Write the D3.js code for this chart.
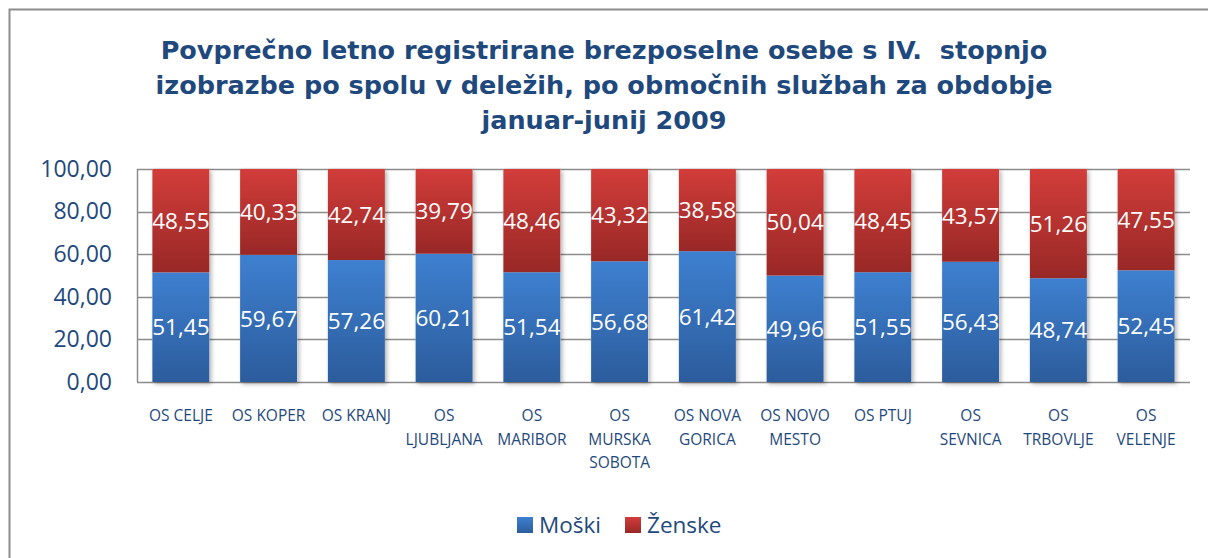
<!DOCTYPE html>
<html>
<head>
<meta charset="utf-8">
<script src="https://cdn.jsdelivr.net/npm/d3@7.9.0/dist/d3.min.js"></script>
<style>
  body { margin: 0; background: #fff; }
  svg { display: block; }
</style>
</head>
<body>
<svg id="chart" width="1208" height="558"></svg>
<script>
// data
const offices = ['OS CELJE', 'OS KOPER', 'OS KRANJ', 'OS LJUBLJANA', 'OS MARIBOR', 'OS MURSKA SOBOTA',
  'OS NOVA GORICA', 'OS NOVO MESTO', 'OS PTUJ', 'OS SEVNICA', 'OS TRBOVLJE', 'OS VELENJE'];
// how the category labels wrap
const officeLines = [['OS CELJE'], ['OS KOPER'], ['OS KRANJ'], ['OS', 'LJUBLJANA'], ['OS', 'MARIBOR'],
  ['OS', 'MURSKA', 'SOBOTA'], ['OS NOVA', 'GORICA'], ['OS NOVO', 'MESTO'], ['OS PTUJ'],
  ['OS', 'SEVNICA'], ['OS', 'TRBOVLJE'], ['OS', 'VELENJE']];
const moski = [51.45, 59.67, 57.26, 60.21, 51.54, 56.68, 61.42, 49.96, 51.55, 56.43, 48.74, 52.45];
const zenske = [48.55, 40.33, 42.74, 39.79, 48.46, 43.32, 38.58, 50.04, 48.45, 43.57, 51.26, 47.55];
const seriesNames = ['Moški', 'Ženske'];
const yTicks = [0, 20, 40, 60, 80, 100];
const titleLines = ['Povprečno letno registrirane brezposelne osebe s IV.  stopnjo',
  'izobrazbe po spolu v deležih, po območnih službah za obdobje',
  'januar-junij 2009'];

const textColor = '#1f497d';
const svg = d3.select('#chart');

// gradients for bar segments
const defs = svg.append('defs');
const grads = [
  { id: 'gBlue', top: '#3e80d0', bottom: '#2c5c9c' },
  { id: 'gRed', top: '#d23d3a', bottom: '#982826' }
];
grads.forEach(g => {
  const lg = defs.append('linearGradient').attr('id', g.id)
    .attr('x1', 0).attr('y1', 0).attr('x2', 0).attr('y2', 1);
  lg.append('stop').attr('offset', '0%').attr('stop-color', g.top);
  lg.append('stop').attr('offset', '100%').attr('stop-color', g.bottom);
});
const shadow = defs.append('filter').attr('id', 'shadow')
  .attr('x', '-20%').attr('y', '-5%').attr('width', '150%').attr('height', '115%');
shadow.append('feDropShadow').attr('dx', 2).attr('dy', 2).attr('stdDeviation', 2)
  .attr('flood-color', '#000').attr('flood-opacity', 0.3);

// outer frame
svg.append('path')
  .attr('d', 'M9.5,570 V9.5 H1220')
  .attr('fill', 'none').attr('stroke', '#8c8c8c').attr('stroke-width', 2);

// title
svg.append('text')
  .attr('x', 604).attr('y', 59)
  .attr('text-anchor', 'middle')
  .attr('font-family', 'DejaVu Sans, Verdana, sans-serif')
  .attr('font-weight', 'bold')
  .attr('font-size', 25.5)
  .attr('fill', textColor)
  .style('white-space', 'pre')
  .selectAll('tspan').data(titleLines).join('tspan')
  .attr('x', 604).attr('dy', (d, i) => i === 0 ? 0 : 35)
  .text(d => d);

const margin = { left: 137, right: 1190, top: 169, bottom: 382 };

const x = d3.scaleBand().domain(offices).range([margin.left, margin.right]).paddingInner(0.35).paddingOuter(0.175);
const y = d3.scaleLinear().domain([0, 100]).range([margin.bottom, margin.top]);

// gridlines
svg.append('g')
  .selectAll('line').data(yTicks).join('line')
  .attr('x1', margin.left).attr('x2', margin.right)
  .attr('y1', d => Math.round(y(d)) + 0.5).attr('y2', d => Math.round(y(d)) + 0.5)
  .attr('stroke', '#8c8c8c').attr('stroke-width', 1.5);
svg.append('line')
  .attr('x1', margin.left + 0.5).attr('x2', margin.left + 0.5)
  .attr('y1', margin.top).attr('y2', margin.bottom)
  .attr('stroke', '#8c8c8c').attr('stroke-width', 1.5);

// y axis labels
const yAxis = d3.axisLeft(y).tickValues(yTicks).tickSize(0).tickPadding(25)
  .tickFormat(d => d3.format('.2f')(d).replace('.', ','));
const yg = svg.append('g').attr('transform', `translate(${margin.left},0)`).call(yAxis);
yg.select('.domain').remove();
yg.selectAll('text')
  .attr('font-family', 'Open Sans, sans-serif').attr('font-size', 23).attr('fill', textColor);

// stacked data
const rows = offices.map((o, i) => ({ office: o, Moški: moski[i], Ženske: zenske[i] }));
const stack = d3.stack().keys(seriesNames)(rows);
const fills = ['url(#gBlue)', 'url(#gRed)'];

const bars = svg.append('g');
offices.forEach((o, i) => {
  bars.append('rect')
    .attr('x', x(o)).attr('width', x.bandwidth())
    .attr('y', y(100)).attr('height', y(0) - y(100))
    .attr('fill', '#fff').attr('filter', 'url(#shadow)');
});
stack.forEach((layer, k) => {
  bars.selectAll(null).data(layer).join('rect')
    .attr('x', d => x(d.data.office))
    .attr('width', x.bandwidth())
    .attr('y', d => y(d[1]))
    .attr('height', d => y(d[0]) - y(d[1]))
    .attr('fill', fills[k]);
  bars.selectAll(null).data(layer).join('text')
    .attr('x', d => x(d.data.office) + x.bandwidth() / 2)
    .attr('y', d => (y(d[0]) + y(d[1])) / 2)
    .attr('dy', '0.36em')
    .attr('text-anchor', 'middle')
    .attr('font-family', 'Open Sans, sans-serif')
    .attr('font-size', 22.5)
    .attr('fill', '#fff')
    .text(d => d3.format('.2f')(d[1] - d[0]).replace('.', ','));
});

// category labels
const xl = svg.append('g');
offices.forEach((o, i) => {
  const t = xl.append('text')
    .attr('text-anchor', 'middle')
    .attr('font-family', 'Open Sans, sans-serif')
    .attr('font-size', 15.5)
    .attr('fill', textColor);
  officeLines[i].forEach((line, j) => {
    t.append('tspan')
      .attr('x', x(o) + x.bandwidth() / 2)
      .attr('y', 421 + j * 23.5)
      .text(line);
  });
});

// legend
const legend = svg.append('g');
const legendX = [517, 625];
seriesNames.forEach((name, k) => {
  legend.append('rect')
    .attr('x', legendX[k]).attr('y', 517).attr('width', 16).attr('height', 16)
    .attr('fill', fills[k]);
  legend.append('text')
    .attr('x', legendX[k] + 22).attr('y', 533)
    .attr('font-family', 'Open Sans, sans-serif')
    .attr('font-size', 22.5)
    .attr('fill', textColor)
    .text(name);
});
</script>
</body>
</html>
